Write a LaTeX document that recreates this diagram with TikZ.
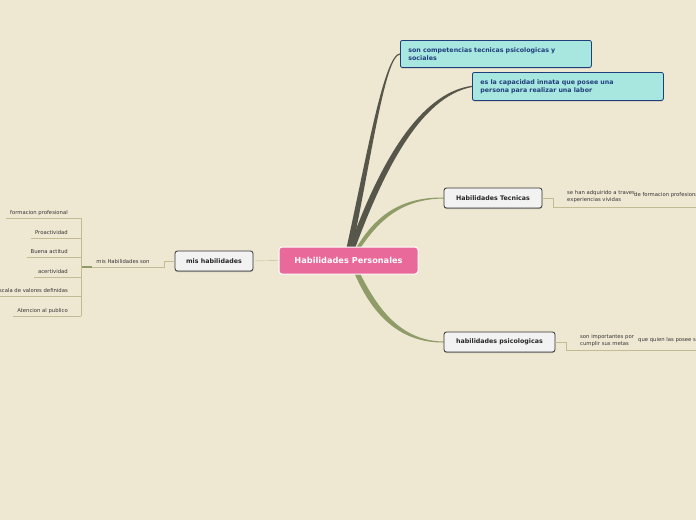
\documentclass[tikz,border=0pt]{standalone}
\usepackage{fontspec}
\setmainfont{DejaVu Sans}
\usetikzlibrary{calc,shadows}
\pgfdeclarelayer{fondo}
\pgfdeclarelayer{ramas}
\pgfsetlayers{fondo,ramas,main}
\definecolor{fondo}{HTML}{EEE8D3}
\definecolor{rosa}{HTML}{E8699A}
\definecolor{turq}{HTML}{A8E6E0}
\definecolor{azul}{HTML}{1F3F7A}
\definecolor{gris}{HTML}{56564A}
\definecolor{oliva}{HTML}{8F9C68}
\definecolor{rama}{HTML}{C2BB94}
\tikzset{
  central/.style={rounded corners=3pt, fill=rosa, draw=white, line width=1pt,
    text=white, font=\fontsize{8.2}{10}\selectfont\bfseries,
    minimum width=139pt, minimum height=27pt, inner sep=0pt},
  tema/.style={rounded corners=2.5pt, fill=black!5, draw=black!80, line width=0.8pt,
    text=black!85, font=\fontsize{6.3}{8}\selectfont\bfseries,
    minimum height=20pt, inner sep=0pt,
    drop shadow={shadow xshift=0pt, shadow yshift=-1pt, fill=black!50, opacity=0.6}},
  nota/.style={rounded corners=2pt, fill=turq, draw=azul, line width=0.8pt,
    text=azul, font=\fontsize{6.3}{8}\selectfont\bfseries, align=left,
    text width=175pt, inner xsep=8pt, inner ysep=0pt, minimum height=27pt,
    anchor=north west,
    drop shadow={shadow xshift=0pt, shadow yshift=-1pt, fill=black!50, opacity=0.6}},
  hoja/.style={font=\fontsize{5.3}{7}\selectfont, text=black!80, inner xsep=4pt, inner ysep=0pt},
}
\begin{document}
\begin{tikzpicture}[x=1pt,y=-1pt]
  \begin{pgfonlayer}{fondo}
    \fill[fondo] (0,0) rectangle (696,520);
  \end{pgfonlayer}
  \useasboundingbox (0,0) rectangle (696,520);
  \clip (0,0) rectangle (696,520);

  % main topics
  \node[central] (hp) at (348.5,260.5) {Habilidades Personales};
  \node[tema, minimum width=78pt] (mh) at (214,261) {mis habilidades};
  \node[tema, minimum width=98pt] (ht) at (493,198) {Habilidades Tecnicas};
  \node[tema, minimum width=111pt] (ps) at (499.5,342) {habilidades psicologicas};
  \node[nota] (c1) at (400,40) {son competencias tecnicas psicologicas y\\sociales};
  \node[nota, minimum height=28pt] (c2) at (472,72) {es la capacidad innata que posee una\\persona para realizar una labor};

  % tapered branches
  \begin{pgfonlayer}{ramas}
    \fill[gris] ($(hp.north)+(-3,6)$) .. controls (366,160) and (384,54) .. ($(c1.west)+(0,-0.6)$)
      -- ($(c1.west)+(0,0.6)$) .. controls (385,56) and (371,160) .. ($(hp.north)+(3,6)$) -- cycle;
    \fill[gris] ($(hp.north)+(-1,6)$) .. controls (377,168) and (418,93) .. ($(c2.west)+(0,-0.6)$)
      -- ($(c2.west)+(0,0.6)$) .. controls (420,97) and (383,172) .. ($(hp.north)+(5,6)$) -- cycle;
    \fill[oliva] ($(hp.north)+(5,6)$) .. controls (373,218) and (398,197) .. ($(ht.west)+(0,-0.5)$)
      -- ($(ht.west)+(0,0.5)$) .. controls (400,199) and (377,222) .. ($(hp.north)+(9,6)$) -- cycle;
    \fill[oliva] ($(hp.south)+(9,-6)$) .. controls (375,304) and (398,341) .. ($(ps.west)+(0,-0.5)$)
      -- ($(ps.west)+(0,0.5)$) .. controls (394,343) and (368,307) .. ($(hp.south)+(4,-6)$) -- cycle;
  \end{pgfonlayer}

  % left side
  \coordinate (ms) at (81,267);
  \draw[rama] (hp.west) -- (mh.east);
  \draw[rama] (mh.west) -- ($(mh.west)+(-10,0)$) |- (ms);
  \node[hoja, anchor=base] (mhs) at (123,263) {mis Habilidades son};
  \draw[oliva, line width=1.5pt] (ms) -- ($(ms)+(11,0)$);
  \coordinate (l1) at (81,218);
  \coordinate (l2) at (81,238);
  \coordinate (l3) at (81,257);
  \coordinate (l4) at (81,277);
  \coordinate (l5) at (81,296);
  \coordinate (l6) at (81,316);
  \draw[rama] (l1) -- (l6);
  \node[hoja, anchor=base east] (f1) at (72,214) {formacion profesional};
  \draw[rama] (f1.west |- l1) -- (l1);
  \node[hoja, anchor=base east] (f2) at (72,234) {Proactividad};
  \draw[rama] (f2.west |- l2) -- (l2);
  \node[hoja, anchor=base east] (f3) at (72,253) {Buena actitud};
  \draw[rama] (f3.west |- l3) -- (l3);
  \node[hoja, anchor=base east] (f4) at (72,273) {acertividad};
  \draw[rama] (f4.west |- l4) -- (l4);
  \node[hoja, anchor=base east] (f5) at (72,292) {escala de valores definidas};
  \draw[rama] (f5.west |- l5) -- (l5);
  \node[hoja, anchor=base east] (f6) at (72,312) {Atencion al publico};
  \draw[rama] (f6.west |- l6) -- (l6);

  % right side
  \coordinate (r1) at (696,207);
  \draw[rama] (ht.east) -- ($(ht.east)+(11,0)$) |- (r1);
  \node[hoja, anchor=north west, align=left, inner xsep=0pt] (t1) at (567,190.5) {se han adquirido a traves\\experiencias vividas};
  \node[hoja, anchor=base west, inner xsep=0pt] (t2) at (634,196) {de formacion profesional y};
  \coordinate (r2) at (696,350);
  \draw[rama] (ps.east) -- ($(ps.east)+(11,0)$) |- (r2);
  \node[hoja, anchor=north west, align=left, inner xsep=0pt] (t3) at (580,334.5) {son importantes por\\cumplir sus metas};
  \node[hoja, anchor=base west, inner xsep=0pt] (t4) at (638,341) {que quien las posee s};
\end{tikzpicture}
\end{document}
